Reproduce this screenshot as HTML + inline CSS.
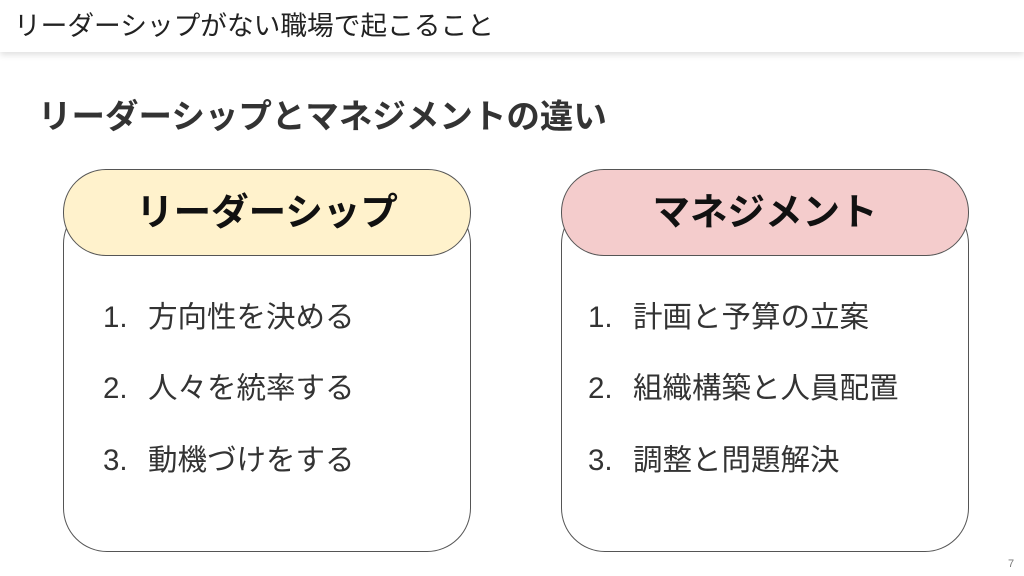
<!DOCTYPE html>
<html><head><meta charset="utf-8"><style>
body{margin:0;width:1024px;height:576px;background:#fff;position:relative;overflow:hidden;font-family:"Liberation Sans","Noto Sans CJK JP",sans-serif;}
.hdr{position:absolute;left:0;top:0;width:1024px;height:52px;background:#fff;box-shadow:0 3px 6px rgba(0,0,0,0.12);}
.hdr span{position:absolute;left:14px;top:8px;font-size:26.7px;color:#222;line-height:36px;white-space:nowrap}
.sub{position:absolute;left:38px;top:97px;font-size:33.5px;font-weight:bold;color:#333;line-height:42px;white-space:nowrap}
.box{position:absolute;top:200px;width:406px;height:350px;border:1px solid #555;border-radius:44px;background:#fff}
.pill{position:absolute;top:169px;width:406px;height:85px;border:1px solid #555;border-radius:43px;text-align:center;line-height:85px;font-size:37.5px;font-weight:bold;color:#111}
.item{position:absolute;font-size:29.5px;color:#333;line-height:36px;white-space:nowrap}
.item b{font-weight:normal;display:inline-block;width:45px}
.pg{position:absolute;left:1008px;top:558px;font-size:11px;color:#777}
</style></head><body>
<div class="hdr"><span>リーダーシップがない職場で起こること</span></div>
<div class="sub">リーダーシップとマネジメントの違い</div>
<div class="box" style="left:63px"></div>
<div class="pill" style="left:63px;background:#fff2cc">リーダーシップ</div>
<div class="box" style="left:561px"></div>
<div class="pill" style="left:561px;background:#f4cccc">マネジメント</div>
<div class="item" style="left:103px;top:300px"><b>1.</b>方向性を決める</div>
<div class="item" style="left:103px;top:371px"><b>2.</b>人々を統率する</div>
<div class="item" style="left:103px;top:443px"><b>3.</b>動機づけをする</div>
<div class="item" style="left:588px;top:300px"><b>1.</b>計画と予算の立案</div>
<div class="item" style="left:588px;top:371px"><b>2.</b>組織構築と人員配置</div>
<div class="item" style="left:588px;top:443px"><b>3.</b>調整と問題解決</div>
<div class="pg">7</div>
</body></html>
